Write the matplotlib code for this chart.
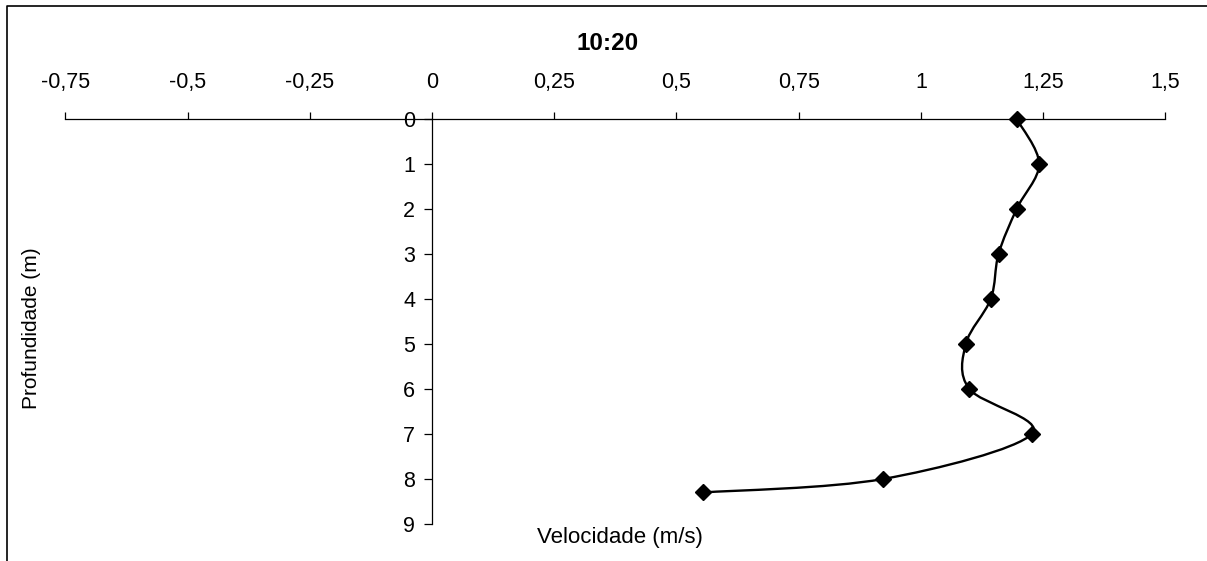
import numpy as np
import matplotlib.pyplot as plt
from matplotlib.path import Path
from matplotlib.patches import PathPatch
from matplotlib.lines import Line2D

plt.rcParams['font.family'] = ['Liberation Sans', 'DejaVu Sans']

# data
velocidade = [1.196, 1.242, 1.196, 1.159, 1.143, 1.092, 1.099, 1.227, 0.923, 0.554]
profundidade = [0, 1, 2, 3, 4, 5, 6, 7, 8, 8.3]
x_ticks = [-0.75, -0.5, -0.25, 0, 0.25, 0.5, 0.75, 1, 1.25, 1.5]
x_labels = ['-0,75', '-0,5', '-0,25', '0', '0,25', '0,5', '0,75', '1', '1,25', '1,5']
y_ticks = [0, 1, 2, 3, 4, 5, 6, 7, 8, 9]

fig = plt.figure(figsize=(12.07, 5.61), dpi=100)
ax = fig.add_axes([0.0542, 0.066, 0.9112, 0.722])

# excel style smoothed line: bezier segments built from the points
pts = np.column_stack([velocidade, profundidade])
n = len(pts)
verts = [pts[0]]
codes = [Path.MOVETO]
for i in range(n - 1):
    p0 = pts[max(i - 1, 0)]
    p1 = pts[i]
    p2 = pts[i + 1]
    p3 = pts[min(i + 2, n - 1)]
    verts += [p1 + (p2 - p0) / 6, p2 - (p3 - p1) / 6, p2]
    codes += [Path.CURVE4] * 3
ax.add_patch(PathPatch(Path(verts, codes), fill=False, edgecolor='black', lw=1.7, clip_on=False))
ax.plot(velocidade, profundidade, ls='none', marker='D', ms=8, color='black', clip_on=False, zorder=5)

ax.set_xlim(-0.75, 1.5)
ax.set_ylim(9, 0)

ax.spines['right'].set_visible(False)
ax.spines['bottom'].set_visible(False)
ax.spines['left'].set_position(('data', 0))
ax.spines['top'].set_linewidth(0.9)
ax.spines['left'].set_linewidth(0.9)

ax.xaxis.tick_top()
ax.set_xticks(x_ticks)
ax.set_xticklabels(x_labels)
ax.set_yticks(y_ticks)
ax.tick_params(axis='x', direction='out', length=5, width=0.9, pad=14, labelsize=15.5)
ax.tick_params(axis='y', direction='out', length=6, width=0.9, pad=6, labelsize=15.5)

fig.text(608 / 1207, 1 - 43 / 561, '10:20', ha='center', va='center',
         fontsize=17.5, fontweight='bold')
fig.text(620 / 1207, 1 - 537 / 561, 'Velocidade (m/s)', ha='center', va='center', fontsize=16)
fig.text(32 / 1207, 1 - 328 / 561, 'Profundidade (m)', ha='center', va='center',
         rotation=90, fontsize=15)

# chart area border (cut off at right and bottom)
fig.add_artist(Line2D([7 / 1207, 7 / 1207, 1.0], [0.0, 1 - 6 / 561, 1 - 6 / 561],
                      transform=fig.transFigure, color='black', lw=1.2))

fig.savefig('out.png', dpi=100)
